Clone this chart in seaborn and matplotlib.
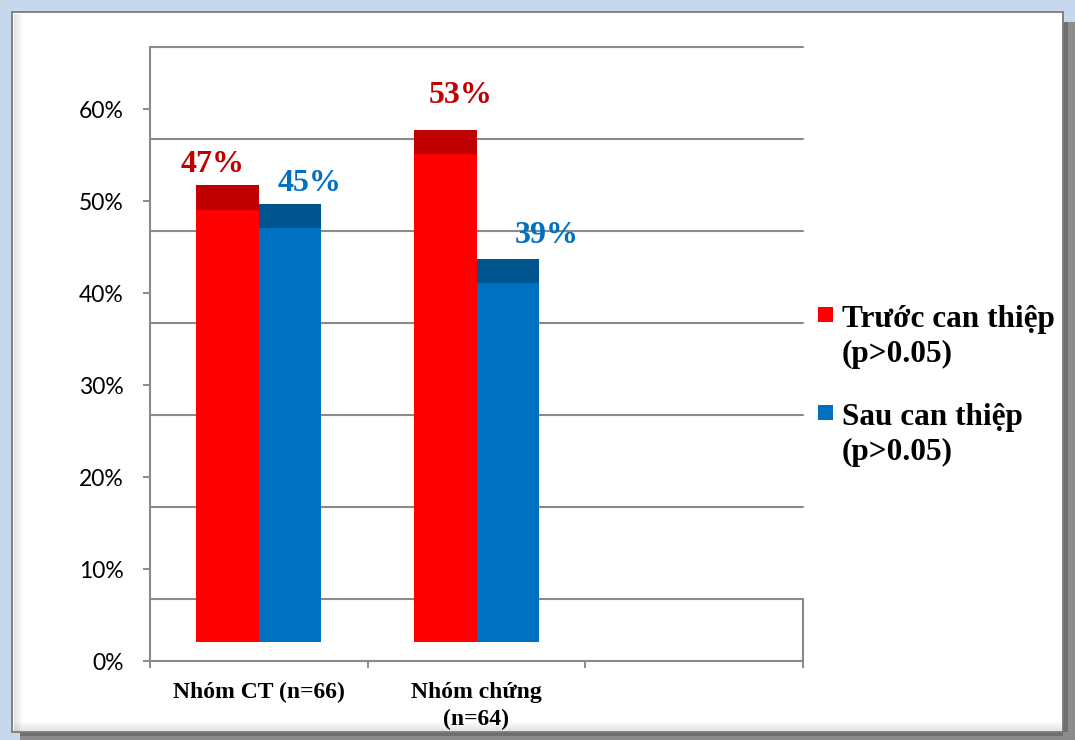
import matplotlib
matplotlib.use("Agg")
import matplotlib.pyplot as plt
from matplotlib.patches import Rectangle
import pandas as pd
import seaborn as sns

# ---- data -------------------------------------------------------------
groups = ["Nhóm CT (n=66)", "Nhóm chứng\n(n=64)"]
phases = ["Trước can thiệp", "Sau can thiệp"]
before = [47, 53]
after = [45, 39]
legend_labels = ["Trước can thiệp\n(p>0.05)", "Sau can thiệp\n(p>0.05)"]
y_ticks = [0, 10, 20, 30, 40, 50, 60]

df = pd.DataFrame({
    "group": groups * 2,
    "phase": [phases[0]] * len(groups) + [phases[1]] * len(groups),
    "value": before + after,
})

# ---- style ------------------------------------------------------------
sns.set_theme(style="white")
SERIF = ["Liberation Serif", "DejaVu Serif"]
SANS = ["Lato", "DejaVu Sans"]

front_colors = {"Trước can thiệp": "#FF0000", "Sau can thiệp": "#0070C0"}
top_colors = ["#BF0000", "#00558F"]
label_colors = ["#C00000", "#0070C0"]
GRID = "#8a8a8a"

# pseudo-3D depth offsets, expressed in percent units of the value axis
BAR_LIFT = 2.07     # bars stand half-way into the floor
WALL_LIFT = 6.74    # back wall sits behind the bars
TOP_DEPTH = 2.62    # visible top face of each column

W, H = 1075, 740
fig = plt.figure(figsize=(W / 100, H / 100), dpi=100)
fig.patch.set_facecolor("#c8d8ec")


def fx(px):
    return px / W


def fy(py):
    return 1 - py / H


def frect(x0, y0, x1, y1, **kw):
    fig.add_artist(Rectangle((fx(x0), fy(y1)), fx(x1) - fx(x0), fy(y0) - fy(y1),
                             transform=fig.transFigure, **kw))


# outer frame: drop shadow, white panel, soft inner bevel
frect(20, 22, 1075, 740, facecolor="#8c8c8c", edgecolor="none", zorder=-10)
frect(1063, 22, 1068, 732, facecolor="#6f6f6f", edgecolor="none", zorder=-9)
frect(20, 732, 1063, 736, facecolor="#6f6f6f", edgecolor="none", zorder=-9)
frect(12, 12, 1063, 732, facecolor="white", edgecolor="#7a7a7a", linewidth=1.3, zorder=-8)
for i in range(9):
    a = 0.22 * (1 - i / 9)
    frect(14 + i, 14, 15 + i, 731, facecolor="#808080", edgecolor="none", alpha=a, zorder=-7)
    frect(14, 730 - i, 1062, 731 - i, facecolor="#808080", edgecolor="none", alpha=a, zorder=-7)

# ---- plot area ---------------------------------------------------------
ax = fig.add_axes([fx(150), fy(661), fx(803) - fx(150), fy(47) - fy(661)])
ax.set_facecolor("none")

sns.barplot(data=df, x="group", y="value", hue="phase", order=groups,
            hue_order=phases, palette=front_colors, saturation=1, width=0.575,
            bottom=BAR_LIFT, linewidth=0, legend=False, ax=ax, zorder=3)

# back-wall gridlines and the floor edge
for v in y_ticks:
    ax.axhline(v + WALL_LIFT, color=GRID, lw=1.5, zorder=1, clip_on=False)
ax.plot([2.5, 2.5], [0, WALL_LIFT], color=GRID, lw=1.5, zorder=1, clip_on=False)

# darker top faces and value labels
label_dx = [[-14.5, 15], [19, 38.5]]
label_dy = [[13, 27], [13, 16]]
boxed = [[True, False], [False, False]]
for s, (cont, vals) in enumerate(zip(ax.containers, [before, after])):
    for j, (bar, v) in enumerate(zip(cont, vals)):
        top = bar.get_y() + bar.get_height()
        ax.bar(bar.get_x(), TOP_DEPTH, width=bar.get_width(), bottom=top,
               align="edge", color=top_colors[s], linewidth=0, zorder=3)
        kw = {}
        if boxed[s][j]:
            kw["bbox"] = dict(boxstyle="square,pad=0.27", facecolor="white", edgecolor="none")
        ax.annotate(f"{v}%", xy=(bar.get_x() + bar.get_width() / 2, top + TOP_DEPTH),
                    xytext=(label_dx[s][j] * 0.72, label_dy[s][j] * 0.72),
                    textcoords="offset points", ha="center", va="baseline",
                    fontsize=23, fontweight="bold", family=SERIF,
                    color=label_colors[s], zorder=2, **kw)

ax.set_xlim(-0.5, 2.5)
ax.set_ylim(0, 60 + WALL_LIFT)
ax.set_xlabel("")
ax.set_ylabel("")

ax.set_yticks(y_ticks)
ax.set_yticklabels([f"{v}%" for v in y_ticks], family=SANS, fontsize=16.5, color="black")
ax.tick_params(axis="y", length=5, width=1.4, color=GRID, pad=14, left=True)

ax.set_xticks(range(len(groups)))
ax.set_xticklabels(groups, family=SERIF, fontsize=17, fontweight="bold", color="black")
for t in ax.get_xticklabels():
    t.set_linespacing(1.35)
ax.set_xticks([-0.5, 0.5, 1.5, 2.5], minor=True)
ax.tick_params(axis="x", which="major", length=0, pad=15)
ax.tick_params(axis="x", which="minor", length=5, width=1.4, color=GRID, bottom=True)

for side in ("top", "right"):
    ax.spines[side].set_visible(False)
for side in ("left", "bottom"):
    ax.spines[side].set_color(GRID)
    ax.spines[side].set_linewidth(1.5)

# ---- legend -----------------------------------------------------------
for i, (phase, lab) in enumerate(zip(phases, legend_labels)):
    y0 = 307 + i * 98
    frect(818, y0, 833, y0 + 15, facecolor=front_colors[phase], edgecolor="none")
    fig.text(fx(842), fy(y0 + 19 + 36), lab, ha="left", va="baseline", fontsize=22.5,
             fontweight="bold", family=SERIF, color="black", linespacing=1.28)

fig.savefig("out.png", dpi=100)
